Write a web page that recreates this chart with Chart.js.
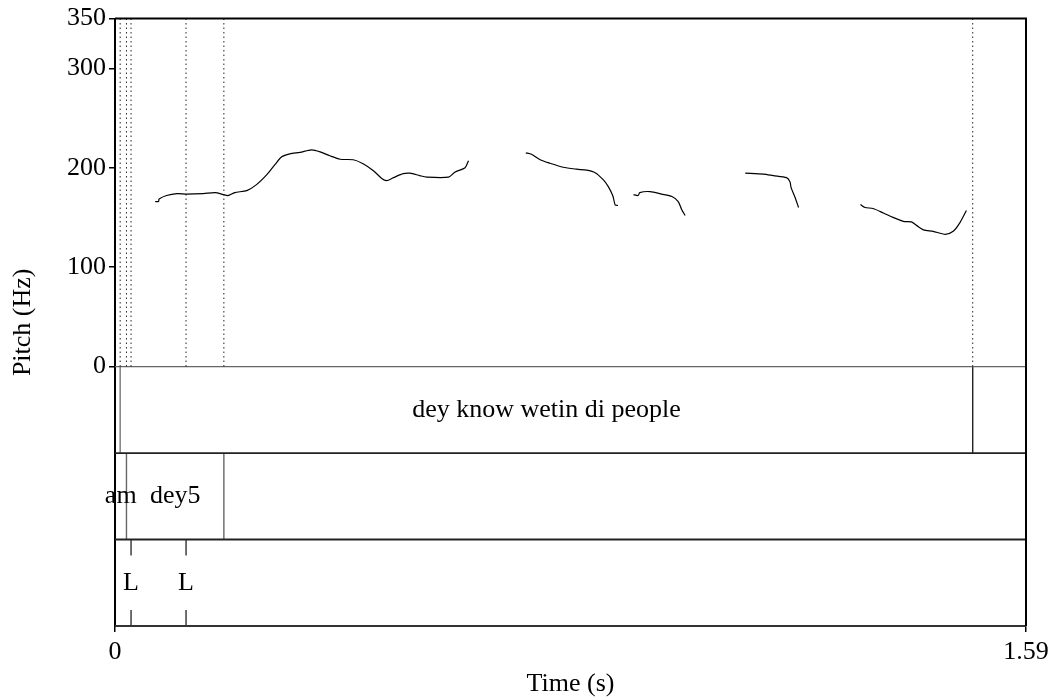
<!DOCTYPE html>
<html>
<head>
<meta charset="utf-8">
<script src="https://cdn.jsdelivr.net/npm/chart.js@4"></script>
<style>
  html, body { margin: 0; padding: 0; background: #fff; }
  #wrap { width: 1057px; height: 697px; position: relative; }
</style>
</head>
<body>
<div id="wrap"><canvas id="c"></canvas></div>
<script>
// Pitch contour, one array pair per voiced stretch (time in s, F0 in Hz)
const seg1Time = [0.070, 0.076, 0.077, 0.090, 0.108, 0.125, 0.154, 0.175, 0.189, 0.197, 0.209, 0.230, 0.247, 0.265, 0.279, 0.291, 0.305, 0.323, 0.343, 0.358, 0.375, 0.393, 0.416, 0.433, 0.451, 0.465, 0.474, 0.486, 0.503, 0.515, 0.532, 0.544, 0.582, 0.593, 0.611, 0.617];
const seg1Hz   = [166, 166, 168.5, 172, 174, 173.5, 174, 175, 173, 172, 175, 177, 183, 193, 203, 211, 214, 215.5, 218, 216, 212, 208.5, 208, 204, 197, 189.5, 187, 190, 194, 194.5, 192, 190.5, 190.5, 195.5, 200, 207];
const seg2Time = [0.717, 0.727, 0.742, 0.759, 0.782, 0.806, 0.823, 0.838, 0.852, 0.861, 0.869, 0.873, 0.878];
const seg2Hz   = [215, 213.5, 208, 204.5, 200.5, 198.5, 197.5, 195, 188, 181, 171.5, 162.5, 162];
const seg3Time = [0.905, 0.913, 0.916, 0.934, 0.954, 0.972, 0.983, 0.989, 0.995];
const seg3Hz   = [173, 172, 175, 176, 173.5, 171, 166, 158, 152];
const seg4Time = [1.100, 1.132, 1.149, 1.172, 1.178, 1.180, 1.187, 1.193];
const seg4Hz   = [194.5, 193.5, 192, 190, 186, 180, 170, 160];
const seg5Time = [1.301, 1.309, 1.323, 1.341, 1.358, 1.376, 1.390, 1.399, 1.411, 1.428, 1.449, 1.463, 1.475, 1.486];
const seg5Hz   = [163, 160, 159, 154.5, 150, 146, 145.5, 142, 137.5, 136, 133, 136, 145, 157];

// Annotation tiers
const phraseBounds = [0.009, 1.497];
const phraseLabels = [{ from: 0.009, to: 1.497, text: 'dey know wetin di people' }];
const wordBounds = [0.020, 0.190];
const wordLabels = [{ from: 0.0, to: 0.020, text: 'am' }, { from: 0.020, to: 0.190, text: 'dey5' }];
const tonePoints = [0.028, 0.124];
const toneLabels = ['L', 'L'];

// Axis ticks
const yTickValues = [0, 100, 200, 300, 350];
const xTickValues = [0, 1.59];
const xTickLabels = ['0', '1.59'];

// Vertical layout of the tiers below the pitch panel (in y-axis units)
const tierEdges = [0, -87, -174, -261];
const pitchTop = 350;
const timeEnd = 1.59;

const FONT = 'Liberation Serif, Times New Roman, serif';
const FSIZE = 26;

function seg(times, hz) { return times.map((t, i) => ({ x: t, y: hz[i] })); }
function vline(t, y0, y1) { return [{ x: t, y: y0 }, { x: t, y: y1 }]; }

const datasets = [];
[[seg1Time, seg1Hz], [seg2Time, seg2Hz], [seg3Time, seg3Hz], [seg4Time, seg4Hz], [seg5Time, seg5Hz]].forEach(([t, h]) => {
  datasets.push({ data: seg(t, h), borderColor: '#000', borderWidth: 1.2, tension: 0.25 });
});

// Dotted marks through the pitch panel at every tier boundary and point
const allMarks = [...phraseBounds, ...wordBounds, ...tonePoints];
allMarks.forEach(t => {
  datasets.push({ data: vline(t, 0, pitchTop), borderColor: '#222', borderWidth: 1, borderDash: [1.5, 3] });
});

// Horizontal tier separators
datasets.push({ data: [{ x: 0, y: tierEdges[0] }, { x: timeEnd, y: tierEdges[0] }], borderColor: '#666', borderWidth: 1.3 });
datasets.push({ data: [{ x: 0, y: tierEdges[1] }, { x: timeEnd, y: tierEdges[1] }], borderColor: '#222', borderWidth: 1.8 });
datasets.push({ data: [{ x: 0, y: tierEdges[2] }, { x: timeEnd, y: tierEdges[2] }], borderColor: '#222', borderWidth: 1.8 });
datasets.push({ data: [{ x: 0, y: tierEdges[3] }, { x: timeEnd, y: tierEdges[3] }], borderColor: '#333', borderWidth: 2 });

// Interval boundaries
phraseBounds.forEach((t, i) => {
  datasets.push({ data: vline(t, tierEdges[0], tierEdges[1]), borderColor: i === 0 ? '#777' : '#222', borderWidth: 1.4 });
});
wordBounds.forEach(t => {
  datasets.push({ data: vline(t, tierEdges[1], tierEdges[2]), borderColor: '#666', borderWidth: 1.4 });
});
// Point tier: short marks at top and bottom of the tier
tonePoints.forEach(t => {
  datasets.push({ data: vline(t, tierEdges[2], tierEdges[2] - 16), borderColor: '#222', borderWidth: 1.3 });
  datasets.push({ data: vline(t, tierEdges[3] + 16, tierEdges[3]), borderColor: '#222', borderWidth: 1.3 });
});

datasets.forEach(d => { d.showLine = true; d.pointRadius = 0; d.fill = false; });

const tierText = {
  id: 'tierText',
  afterDatasetsDraw(chart) {
    const { ctx, scales: { x, y } } = chart;
    ctx.save();
    ctx.fillStyle = '#000';
    ctx.font = FSIZE + 'px ' + FONT;
    ctx.textAlign = 'center';
    ctx.textBaseline = 'middle';
    const mid = (a, b) => (a + b) / 2;
    phraseLabels.forEach(l => ctx.fillText(l.text, x.getPixelForValue(mid(l.from, l.to)), y.getPixelForValue(mid(tierEdges[0], tierEdges[1]))));
    wordLabels.forEach(l => ctx.fillText(l.text, x.getPixelForValue(mid(l.from, l.to)), y.getPixelForValue(mid(tierEdges[1], tierEdges[2]))));
    tonePoints.forEach((t, i) => ctx.fillText(toneLabels[i], x.getPixelForValue(t), y.getPixelForValue(mid(tierEdges[2], tierEdges[3]))));
    ctx.restore();
  }
};

const frame = {
  id: 'frame',
  afterDraw(chart) {
    const { ctx, chartArea: a } = chart;
    ctx.save();
    ctx.strokeStyle = '#000';
    ctx.lineWidth = 2;
    ctx.beginPath();
    ctx.moveTo(a.left, a.top);
    ctx.lineTo(a.right, a.top);
    ctx.lineTo(a.right, a.bottom);
    ctx.stroke();
    ctx.restore();
  }
};

new Chart(document.getElementById('c'), {
  type: 'scatter',
  data: { datasets },
  plugins: [tierText, frame],
  options: {
    responsive: true,
    maintainAspectRatio: false,
    animation: false,
    layout: { padding: { left: 0, right: 31, top: 17, bottom: 0 } },
    plugins: { legend: { display: false }, tooltip: { enabled: false } },
    scales: {
      x: {
        type: 'linear', min: 0, max: timeEnd,
        afterBuildTicks(s) { s.ticks = xTickValues.map(v => ({ value: v })); },
        afterFit(s) { s.height = 71; },
        ticks: {
          color: '#000', font: { family: FONT, size: FSIZE }, padding: 5, maxRotation: 0,
          callback(v) { const i = xTickValues.indexOf(v); return i >= 0 ? xTickLabels[i] : ''; }
        },
        grid: { drawOnChartArea: false, drawTicks: true, tickLength: 6, color: '#000', lineWidth: 1.5 },
        border: { display: true, color: '#333', width: 2 },
        title: { display: true, text: 'Time (s)', color: '#000', font: { family: FONT, size: FSIZE }, padding: { top: 0, bottom: -3 } }
      },
      y: {
        type: 'linear', min: tierEdges[3], max: pitchTop,
        afterBuildTicks(s) { s.ticks = yTickValues.map(v => ({ value: v })); },
        afterFit(s) { s.width = 115; },
        ticks: { color: '#000', font: { family: FONT, size: FSIZE }, padding: 3, callback: v => String(v) },
        grid: { drawOnChartArea: false, drawTicks: true, tickLength: 6, color: '#000', lineWidth: 1.5 },
        border: { display: true, color: '#000', width: 2 },
        title: { display: true, text: 'Pitch (Hz)', color: '#000', font: { family: FONT, size: FSIZE }, padding: { top: 8, bottom: 0 } }
      }
    }
  }
});
</script>
</body>
</html>
